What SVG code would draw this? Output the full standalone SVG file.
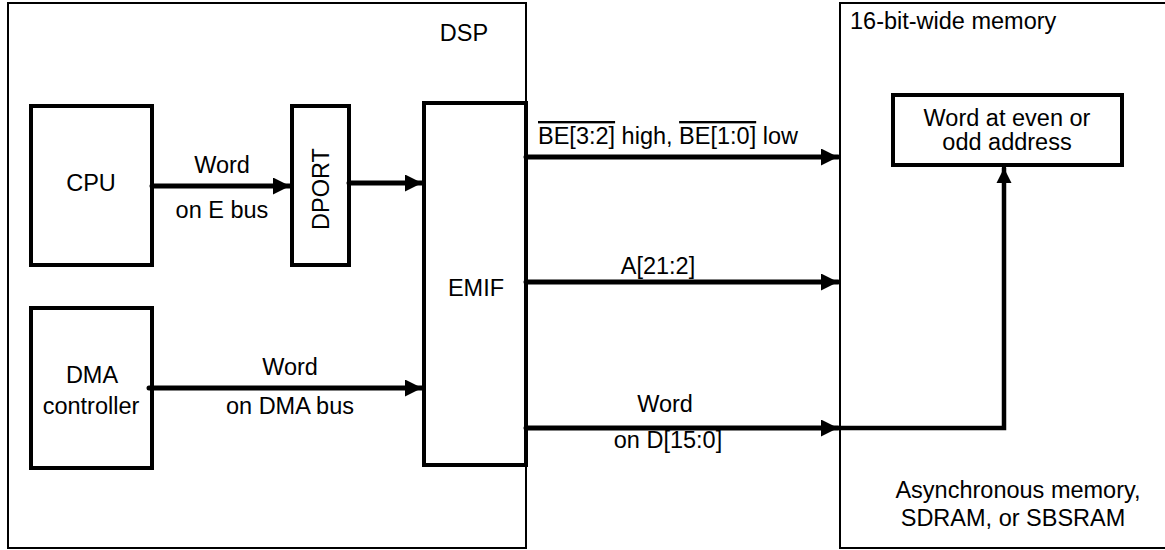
<svg xmlns="http://www.w3.org/2000/svg" width="1165" height="550" viewBox="0 0 1165 550">
<defs>
<style>
.frame{fill:none;stroke:#000;stroke-width:2}
.box{fill:#fff;stroke:#000;stroke-width:4}
.bus{fill:none;stroke:#000;stroke-width:5;stroke-linecap:round}
.t{font-family:"Liberation Sans",Arial,sans-serif;font-size:23.5px;fill:#000}
.c{text-anchor:middle}
</style>
<marker id="ah" viewBox="0 0 10 10" refX="10" refY="5" markerWidth="3.4" markerHeight="3.4" markerUnits="strokeWidth" orient="auto">
<path d="M0,0 L10,5 L0,10 Z" fill="#000"/>
</marker>
</defs>
<rect width="1165" height="550" fill="#fff"/>
<g id="dsp">
<rect class="frame" x="8" y="3" width="518" height="545"/>
<text class="t c" x="464" y="41">DSP</text>
</g>
<g id="memory">
<rect class="frame" x="840" y="3" width="330" height="545"/>
<text class="t" x="850" y="29">16-bit-wide memory</text>
<text class="t c" x="1018" y="498">Asynchronous memory,</text>
<text class="t c" x="1013" y="526">SDRAM, or SBSRAM</text>
</g>
<g id="cpu">
<rect class="box" x="31" y="106" width="121" height="159"/>
<text class="t c" x="91" y="191">CPU</text>
</g>
<g id="dport">
<rect class="box" x="292" y="106" width="57" height="159"/>
<text class="t c" transform="translate(329,189) rotate(-90)">DPORT</text>
</g>
<g id="emif">
<rect class="box" x="424" y="103" width="102" height="362"/>
<text class="t c" x="476" y="296">EMIF</text>
</g>
<g id="dma">
<rect class="box" x="31" y="308" width="121" height="160"/>
<text class="t c" x="92" y="383">DMA</text>
<text class="t c" x="91" y="414">controller</text>
</g>
<g id="word">
<rect class="box" x="893" y="95" width="229" height="70"/>
<text class="t c" x="1007" y="126">Word at even or</text>
<text class="t c" x="1007" y="150">odd address</text>
</g>
<g id="connectors">
<path class="bus" d="M152,186 H290" marker-end="url(#ah)"/>
<path class="bus" d="M349,183 H422" marker-end="url(#ah)"/>
<path class="bus" d="M149,388 H422" marker-end="url(#ah)"/>
<path class="bus" d="M526,157 H838" marker-end="url(#ah)"/>
<path class="bus" d="M526,282 H838" marker-end="url(#ah)"/>
<path class="bus" d="M526,428 H838" marker-end="url(#ah)"/>
<path class="bus" style="stroke-width:4.5" d="M840,428 H1004 V168" marker-end="url(#ah)"/>
<text class="t c" x="222" y="173">Word</text>
<text class="t c" x="222" y="218">on E bus</text>
<text class="t c" x="290" y="375">Word</text>
<text class="t c" x="290" y="414">on DMA bus</text>
<text class="t" x="538" y="144"><tspan text-decoration="overline">BE[3:2]</tspan> high, <tspan text-decoration="overline">BE[1:0]</tspan> low</text>
<text class="t c" x="658" y="274">A[21:2]</text>
<text class="t c" x="665" y="412">Word</text>
<text class="t c" x="668" y="448">on D[15:0]</text>
</g>
</svg>
